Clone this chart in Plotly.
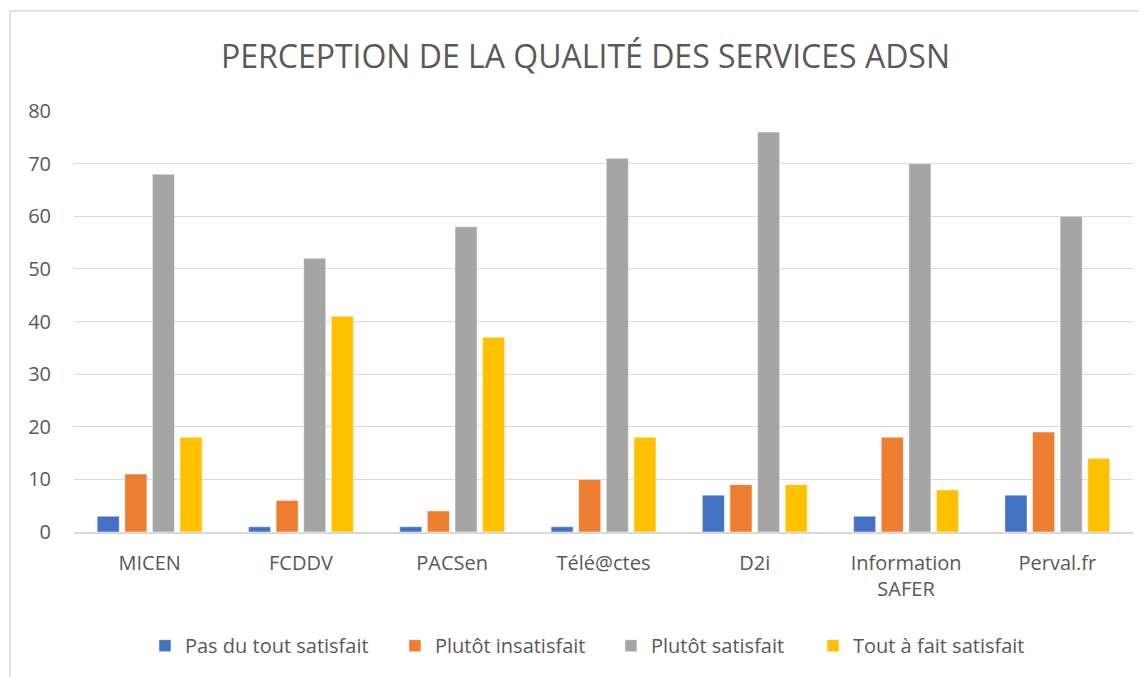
import plotly.graph_objects as go

categories = ["MICEN", "FCDDV", "PACSen", "Télé@ctes", "D2i", "Information<br>SAFER", "Perval.fr"]
pas_du_tout = [3, 1, 1, 1, 7, 3, 7]
plutot_insatisfait = [11, 6, 4, 10, 9, 18, 19]
plutot_satisfait = [68, 52, 58, 71, 76, 70, 60]
tout_a_fait = [18, 41, 37, 18, 9, 8, 14]

series_names = ["Pas du tout satisfait", "Plutôt insatisfait", "Plutôt satisfait", "Tout à fait satisfait"]
series_values = [pas_du_tout, plutot_insatisfait, plutot_satisfait, tout_a_fait]
colors = ["#4472C4", "#ED7D31", "#A5A5A5", "#FFC000"]
legend_widths = [205, 171, 157, 200]

font_family = "Open Sans, Carlito, Liberation Sans, sans-serif"
text_color = "#595959"

fig = go.Figure()
for name, vals, col, lw in zip(series_names, series_values, colors, legend_widths):
    fig.add_trace(go.Bar(x=categories, y=vals, name=name, legendwidth=lw,
                         marker=dict(color=col, line=dict(color="white", width=0.5))))

# page body has an 8px margin; figure sized so it ends at the window edge
fig.update_layout(
    width=1139, height=669,
    paper_bgcolor="white", plot_bgcolor="white",
    barmode="group", bargap=0.27, bargroupgap=0.2,
    margin=dict(l=66, r=14, t=103, b=145, autoexpand=False),
    title=dict(text="PERCEPTION DE LA QUALITÉ DES SERVICES ADSN",
               xref="container", x=0.507, xanchor="center",
               yref="container", y=0.9268, yanchor="middle",
               font=dict(family=font_family, size=32, color=text_color)),
    font=dict(family=font_family, size=20, color=text_color),
    legend=dict(orientation="h", x=0.067, xanchor="left", y=-0.27, yanchor="middle",
                font=dict(size=20, color=text_color), itemwidth=30, traceorder="normal"),
    showlegend=True,
)
fig.update_yaxes(range=[0, 80], dtick=10, showgrid=True, gridcolor="#D9D9D9", gridwidth=1,
                 zeroline=False, showline=False,
                 ticks="outside", ticklen=18, tickcolor="rgba(0,0,0,0)",
                 tickfont=dict(size=20, color=text_color))
fig.update_xaxes(showline=True, linecolor="#D9D9D9", linewidth=1.5,
                 ticks="outside", ticklen=12, tickcolor="rgba(0,0,0,0)",
                 tickfont=dict(size=20, color=text_color))
fig.add_shape(type="rect", xref="paper", yref="paper",
              x0=-0.0604, x1=1.03, y0=-0.6, y1=1.2375,
              line=dict(color="#D9D9D9", width=1.5), fillcolor="rgba(0,0,0,0)", layer="below")

fig.write_html("out.html")
